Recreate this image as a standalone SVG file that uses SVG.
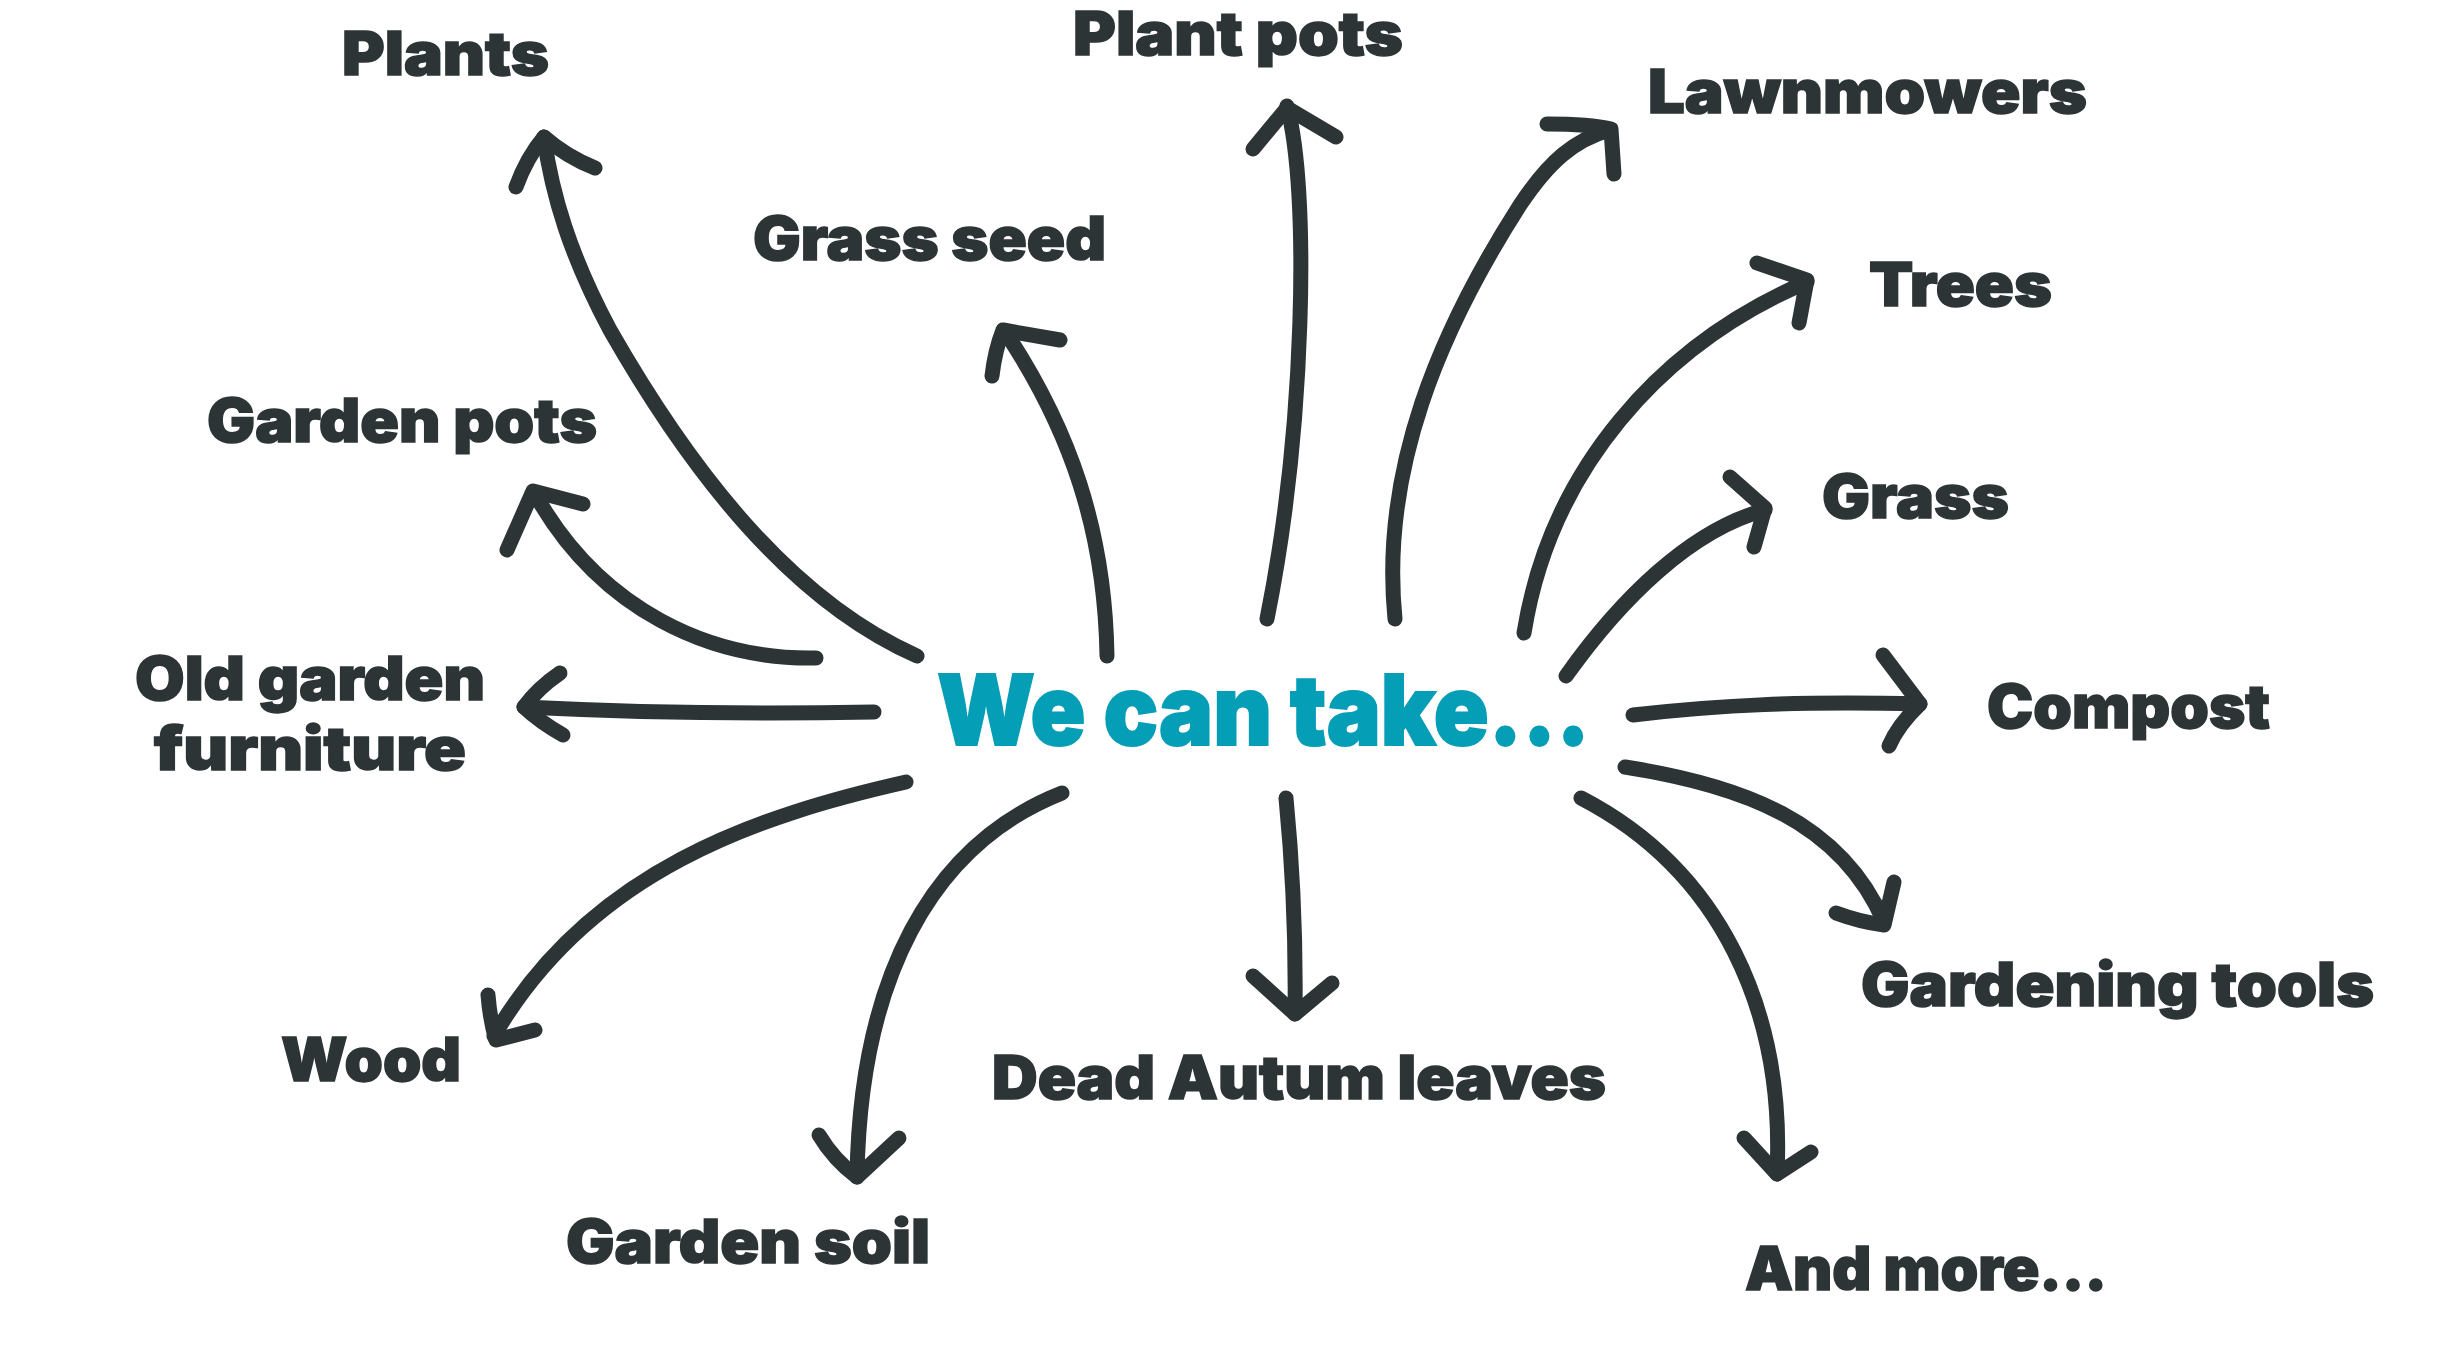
<svg xmlns="http://www.w3.org/2000/svg" width="2438" height="1371" viewBox="0 0 2438 1371">
<style>
.lbl{font-family:Inter,Roboto,"Liberation Sans",sans-serif;font-weight:900;font-size:60px;fill:#2d3436;stroke:#2d3436;stroke-width:1.5}
.ctr{font-family:Inter,Roboto,"Liberation Sans",sans-serif;font-weight:900;font-size:98px;fill:#049eb6;stroke:#049eb6;stroke-width:2}
.c path{fill:none;stroke:#2d3436;stroke-width:15;stroke-linecap:round;stroke-linejoin:round}
</style>
<rect width="2438" height="1371" fill="#ffffff"/>
<g id="center"><text class="ctr" x="937" y="745" textLength="653" lengthAdjust="spacingAndGlyphs">We can take...</text></g>
<g id="n-plants"><text class="lbl" x="342" y="75" textLength="207" lengthAdjust="spacingAndGlyphs">Plants</text></g>
<g id="n-plant-pots"><text class="lbl" x="1073" y="55" textLength="330" lengthAdjust="spacingAndGlyphs">Plant pots</text></g>
<g id="n-lawnmowers"><text class="lbl" x="1648" y="113" textLength="439" lengthAdjust="spacingAndGlyphs">Lawnmowers</text></g>
<g id="n-grass-seed"><text class="lbl" x="753" y="260" textLength="353" lengthAdjust="spacingAndGlyphs">Grass seed</text></g>
<g id="n-trees"><text class="lbl" x="1869" y="306" textLength="183" lengthAdjust="spacingAndGlyphs">Trees</text></g>
<g id="n-garden-pots"><text class="lbl" x="207" y="442" textLength="390" lengthAdjust="spacingAndGlyphs">Garden pots</text></g>
<g id="n-grass"><text class="lbl" x="1822" y="518" textLength="187" lengthAdjust="spacingAndGlyphs">Grass</text></g>
<g id="n-old-garden-furniture"><text class="lbl" x="135" y="700" textLength="350" lengthAdjust="spacingAndGlyphs">Old garden</text><text class="lbl" x="154" y="770" textLength="312" lengthAdjust="spacingAndGlyphs">furniture</text></g>
<g id="n-compost"><text class="lbl" x="1987" y="728" textLength="283" lengthAdjust="spacingAndGlyphs">Compost</text></g>
<g id="n-gardening-tools"><text class="lbl" x="1861" y="1006" textLength="513" lengthAdjust="spacingAndGlyphs">Gardening tools</text></g>
<g id="n-wood"><text class="lbl" x="281" y="1081" textLength="180" lengthAdjust="spacingAndGlyphs">Wood</text></g>
<g id="n-dead-leaves"><text class="lbl" x="992" y="1099" textLength="614" lengthAdjust="spacingAndGlyphs">Dead Autum leaves</text></g>
<g id="n-garden-soil"><text class="lbl" x="566" y="1263" textLength="364" lengthAdjust="spacingAndGlyphs">Garden soil</text></g>
<g id="n-and-more"><text class="lbl" x="1745" y="1290" textLength="362" lengthAdjust="spacingAndGlyphs">And more...</text></g>
<g id="connectors" class="c">
<path d="M917,656 C790,600 690,470 610,330 C570,255 552,195 544,137"/>
<path d="M516,187 Q527,157 544,137 Q567,157 595,168"/>
<path d="M816,658 C710,660 600,610 535,494"/>
<path d="M507,550 L533,491 L583,504"/>
<path d="M874,712 C760,714 640,713 524,707"/>
<path d="M560,673 Q538,688 524,707 Q540,722 563,735"/>
<path d="M906,782 C760,815 590,870 494,1036"/>
<path d="M488,995 Q490,1020 496,1040 L535,1030"/>
<path d="M1062,793 C930,845 860,980 857,1177"/>
<path d="M819,1135 Q834,1160 857,1177 L899,1138"/>
<path d="M1286,798 C1293,870 1296,940 1295,1014"/>
<path d="M1253,976 L1295,1014 L1332,983"/>
<path d="M1581,798 C1720,870 1785,1010 1777,1174"/>
<path d="M1744,1138 L1777,1174 L1811,1152"/>
<path d="M1625,767 C1740,785 1840,820 1884,922"/>
<path d="M1836,913 Q1860,922 1884,925 L1894,882"/>
<path d="M1633,715 C1720,705 1800,701 1920,704"/>
<path d="M1883,655 L1920,704 Q1898,725 1889,746"/>
<path d="M1566,676 C1620,600 1690,530 1765,510"/>
<path d="M1730,477 L1765,508 L1754,547"/>
<path d="M1524,633 C1550,470 1660,345 1807,282"/>
<path d="M1757,263 L1807,280 L1799,323"/>
<path d="M1395,619 C1380,470 1440,330 1520,205 C1550,160 1575,140 1609,130"/>
<path d="M1547,124 Q1590,124 1611,129 L1614,174"/>
<path d="M1267,619 C1305,430 1310,190 1287,106"/>
<path d="M1253,149 L1287,108 L1336,137"/>
<path d="M1107,656 C1105,530 1070,430 1006,333"/>
<path d="M992,376 Q995,350 1003,330 L1060,340"/>
</g>
</svg>
